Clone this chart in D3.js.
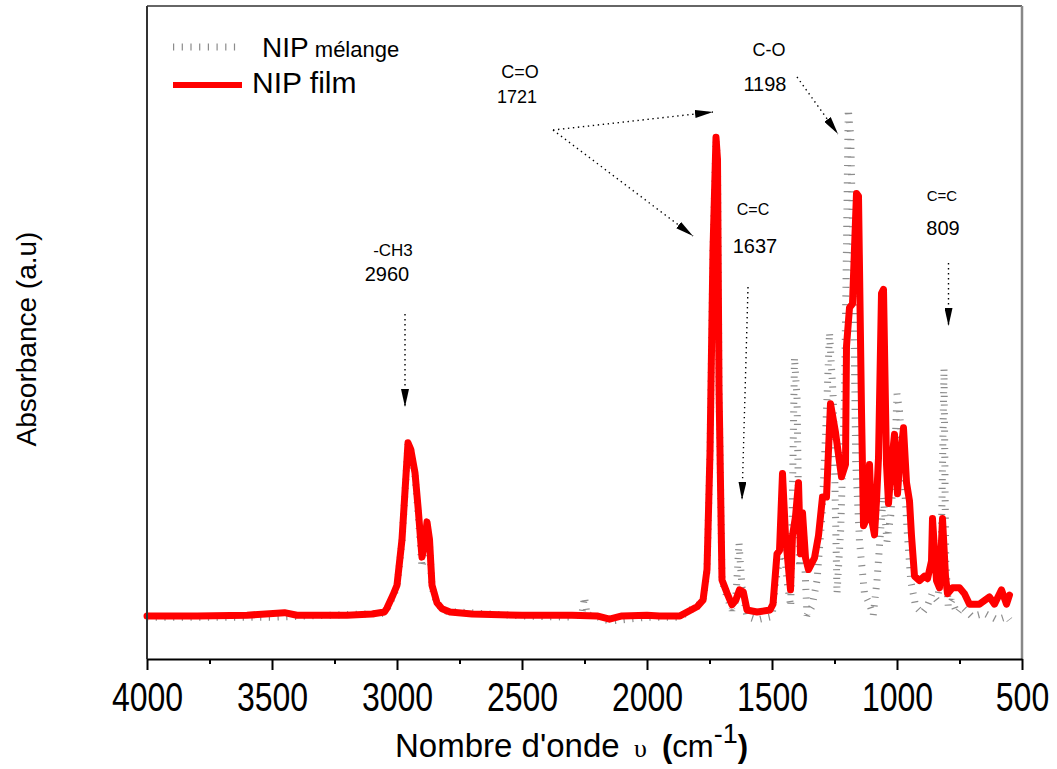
<!DOCTYPE html>
<html>
<head>
<meta charset="utf-8">
<script src="https://cdn.jsdelivr.net/npm/d3@7"></script>
<style>
  html, body { margin: 0; padding: 0; background: #fff; }
  svg { display: block; }
</style>
</head>
<body>
<svg id="chart" width="1057" height="769"></svg>
<script>
// ---------- data ----------
const filmWavenumber = [4000,3800,3600,3450,3400,3200,3100,3050,3040,3016,3000,2980,2956,2945,2928,2915,2900,2890,2880,2870,2860,2840,2820,2788,2700,2500,2300,2200,2150,2100,2000,1950,1868,1800,1776,1760,1748,1736,1724,1718,1712,1700,1680,1660,1645,1630,1615,1600,1560,1508,1496,1480,1470,1458,1446,1426,1418,1406,1394,1386,1378,1366,1354,1330,1314,1298,1282,1266,1246,1222,1206,1202,1190,1178,1162,1154,1142,1134,1122,1110,1102,1090,1082,1074,1062,1054,1042,1034,1022,1010,998,990,974,962,950,942,930,910,890,878,862,858,842,830,818,806,798,778,750,730,710,670,630,610,582,562,550];
const filmAbsorbance = [6.6,6.6,6.7,7.1,6.7,6.7,6.9,7.2,7.8,9.8,11.3,18.3,33.1,32.1,28.5,22.9,15.6,17.5,21.0,18.3,11.3,8.6,7.7,7.2,6.9,6.7,6.7,6.6,6.1,6.6,6.7,6.6,6.6,8.0,9.0,13.7,31.6,62.7,79.9,76.5,41.7,12.1,10.1,8.3,9.0,10.6,10.3,7.5,7.2,7.5,8.4,16.1,16.6,28.4,18.9,10.6,18.9,21.8,27.0,16.1,22.4,15.5,13.7,15.5,18.9,24.8,24.8,39.1,34.7,27.9,29.8,47.9,53.8,54.4,71.3,70.9,38.0,20.4,21.5,29.8,21.5,19.0,24.2,30.8,56.0,56.6,29.8,23.8,29.8,34.4,25.3,29.8,35.4,27.0,24.2,18.9,12.7,12.0,12.7,12.3,15.0,21.5,12.0,10.9,21.5,12.7,10.0,10.9,10.9,10.0,8.4,8.4,9.5,8.4,10.6,8.4,9.8];

const melangeWavenumber = [4000,3500,3050,3040,3016,3000,2980,2956,2945,2928,2915,2900,2890,2880,2870,2860,2840,2800,2500,2300,2260,2250,2240,2200,2150,2000,1868,1776,1760,1748,1736,1724,1718,1712,1700,1680,1660,1645,1632,1620,1600,1560,1500,1485,1470,1458,1440,1425,1410,1400,1390,1375,1360,1340,1320,1300,1285,1270,1255,1240,1225,1210,1195,1185,1175,1165,1150,1130,1110,1095,1080,1065,1055,1040,1025,1010,1000,990,975,960,945,925,900,880,860,840,825,812,805,795,780,760,740,700,650,600,560,550];
const melangeAbsorbance = [6.4,6.4,7.0,7.6,9.6,11.0,18.0,33.0,32.0,28.0,22.0,14.0,16.5,20.5,17.5,11.0,8.4,7.3,6.6,6.4,7.0,9.5,6.8,6.5,5.8,6.4,6.4,8.8,13.5,31.5,62.5,79.5,76.0,41.5,12.0,9.5,7.5,9.0,17.8,11.0,6.5,6.0,6.5,12.0,15.0,20.0,12.0,8.0,46.2,40.0,14.0,20.0,6.7,8.0,12.0,22.0,35.0,50.0,40.0,10.0,20.0,40.0,84.2,80.0,60.0,30.0,18.0,10.0,8.4,6.7,12.0,20.0,25.0,18.0,22.0,30.0,40.6,38.0,30.0,20.0,12.0,8.0,7.0,8.0,10.0,9.0,12.0,44.5,15.0,8.0,9.0,7.0,8.0,6.5,7.0,6.0,6.5,6.0];

const xTickValues = [4000,3500,3000,2500,2000,1500,1000,500];
const xTickLabels = ["4000","3500","3000","2500","2000","1500","1000","500"];
const xMinorTicks = [3750,3250,2750,2250,1750,1250,750];

const seriesNames = ["NIP mélange", "NIP film"];

// annotation labels
const annotGroups = ["-CH3","C=O","C-O","C=C","C=C"];
const annotPeaks = ["2960","1721","1198","1637","809"];

// ---------- layout ----------
const svg = d3.select("#chart");
const L = 147, R = 1022, T = 6, B = 659;
const x = d3.scaleLinear().domain([4000, 500]).range([L, R]);
const y = d3.scaleLinear().domain([0, 100]).range([B, T]);

const film = filmWavenumber.map((w, i) => ({w, a: filmAbsorbance[i]}));
const melange = melangeWavenumber.map((w, i) => ({w, a: melangeAbsorbance[i]}));

const line = d3.line().x(d => x(d.w)).y(d => y(d.a));

// melange (gray, dashed thick)
svg.append("path").datum(melange)
  .attr("d", line)
  .attr("fill", "none")
  .attr("stroke", "#8c8c8c")
  .attr("stroke-width", 7)
  .attr("stroke-linejoin", "bevel")
  .attr("stroke-dasharray", "1.2 7.5");

// film (red)
svg.append("path").datum(film)
  .attr("d", line)
  .attr("fill", "none")
  .attr("stroke", "#ff0000")
  .attr("stroke-width", 7)
  .attr("stroke-linejoin", "round")
  .attr("stroke-linecap", "round");

// frame
svg.append("line").attr("x1", L).attr("x2", R).attr("y1", T).attr("y2", T)
  .attr("stroke", "#333").attr("stroke-width", 1.5);
svg.append("line").attr("x1", L).attr("x2", L).attr("y1", T).attr("y2", B)
  .attr("stroke", "#333").attr("stroke-width", 2);
svg.append("line").attr("x1", R).attr("x2", R).attr("y1", T).attr("y2", B)
  .attr("stroke", "#888").attr("stroke-width", 2.5);

// x axis
const axis = d3.axisBottom(x)
  .tickValues(xTickValues)
  .tickFormat((d, i) => xTickLabels[i])
  .tickSize(11)
  .tickPadding(13)
  .tickSizeOuter(0);
const gx = svg.append("g").attr("transform", `translate(0,${B})`).call(axis);
gx.select(".domain").attr("stroke", "#000").attr("stroke-width", 2);
gx.selectAll(".tick line").attr("stroke", "#000").attr("stroke-width", 2);
gx.selectAll(".tick text")
  .attr("fill", "#000")
  .attr("transform", "scale(0.8,1)")
  .style("font-family", "'Liberation Sans', Arial, sans-serif")
  .style("font-size", "40px");

const minorAxis = d3.axisBottom(x).tickValues(xMinorTicks).tickSize(5).tickFormat("").tickSizeOuter(0);
const gm = svg.append("g").attr("transform", `translate(0,${B})`).call(minorAxis);
gm.select(".domain").remove();
gm.selectAll(".tick line").attr("stroke", "#000").attr("stroke-width", 2);

// axis titles
const xt = svg.append("text")
  .attr("y", 757)
  .attr("fill", "#000")
  .style("font-family", "'Liberation Sans', Arial, sans-serif");
xt.append("tspan").attr("x", 395).style("font-size", "33px").text("Nombre d'onde");
xt.append("tspan").attr("x", 634).style("font-size", "26px")
  .style("font-family", "'Liberation Serif','Times New Roman',serif").text("υ");
xt.append("tspan").attr("x", 662).style("font-size", "31px").style("font-weight", "bold").text("(");
xt.append("tspan").style("font-size", "31px").text("cm");
xt.append("tspan").attr("dy", -14).style("font-size", "27px").text("-1");
xt.append("tspan").attr("dy", 14).style("font-size", "31px").style("font-weight", "bold").text(")");

svg.append("text")
  .attr("transform", "translate(36,339) rotate(-90)")
  .attr("text-anchor", "middle")
  .attr("fill", "#000")
  .style("font-family", "'Liberation Sans', Arial, sans-serif")
  .style("font-size", "28px")
  .text("Absorbance (a.u)");

// legend
svg.append("line").attr("x1", 173).attr("x2", 242).attr("y1", 47).attr("y2", 47)
  .attr("stroke", "#8c8c8c").attr("stroke-width", 7).attr("stroke-dasharray", "1.2 7.5");
svg.append("line").attr("x1", 173).attr("x2", 242).attr("y1", 85).attr("y2", 85)
  .attr("stroke", "#ff0000").attr("stroke-width", 6);
const lg1 = svg.append("text").attr("x", 262).attr("y", 57).attr("fill", "#000")
  .style("font-family", "'Liberation Sans', Arial, sans-serif");
lg1.append("tspan").style("font-size", "28px").text("NIP");
lg1.append("tspan").style("font-size", "22px").text(" " + seriesNames[0].split(" ")[1]);
svg.append("text").attr("x", 252).attr("y", 93).attr("fill", "#000")
  .style("font-family", "'Liberation Sans', Arial, sans-serif")
  .style("font-size", "30px").text(seriesNames[1]);

// annotations
const defs = svg.append("defs");
defs.append("marker").attr("id", "ah")
  .attr("viewBox", "0 0 18 8").attr("refX", 18).attr("refY", 4)
  .attr("markerWidth", 18).attr("markerHeight", 8)
  .attr("markerUnits", "userSpaceOnUse").attr("orient", "auto")
  .append("path").attr("d", "M0,0 L18,4 L0,8 Z").attr("fill", "#000");

const px = w => x(w), py = a => y(a);
function arrow(w1, a1, w2, a2) {
  svg.append("line")
    .attr("x1", px(w1)).attr("y1", py(a1)).attr("x2", px(w2)).attr("y2", py(a2))
    .attr("stroke", "#000").attr("stroke-width", 1.4)
    .attr("stroke-dasharray", "1.4 3.6")
    .attr("marker-end", "url(#ah)");
}
function label(w, a, txt, size) {
  svg.append("text").attr("x", px(w)).attr("y", py(a))
    .attr("text-anchor", "middle").attr("fill", "#000")
    .style("font-family", "'Liberation Sans', Arial, sans-serif")
    .style("font-size", size + "px").text(txt);
}
const W = p => x.invert(p), A = p => y.invert(p);

// -CH3 2960
label(W(393), A(256), annotGroups[0], 17);
label(W(387), A(281), annotPeaks[0], 20);
arrow(W(405), A(314), W(405), A(407));
// C=O 1721
label(W(520), A(78), annotGroups[1], 18);
label(W(517), A(103), annotPeaks[1], 18);
arrow(W(553), A(130), W(713), A(112));
arrow(W(553), A(130), W(693), A(236));
// C-O 1198
label(W(769), A(56), annotGroups[2], 18);
label(W(765), A(91), annotPeaks[2], 20);
arrow(W(797), A(77), W(838), A(134));
// C=C 1637
label(W(753), A(215), annotGroups[3], 16);
label(W(755), A(253), annotPeaks[3], 20);
arrow(W(748), A(287), W(742), A(500));
// C=C 809
label(W(942), A(201), annotGroups[4], 15);
label(W(943), A(235), annotPeaks[4], 20);
arrow(W(948.5), A(263), W(948.5), A(326));
</script>
</body>
</html>
